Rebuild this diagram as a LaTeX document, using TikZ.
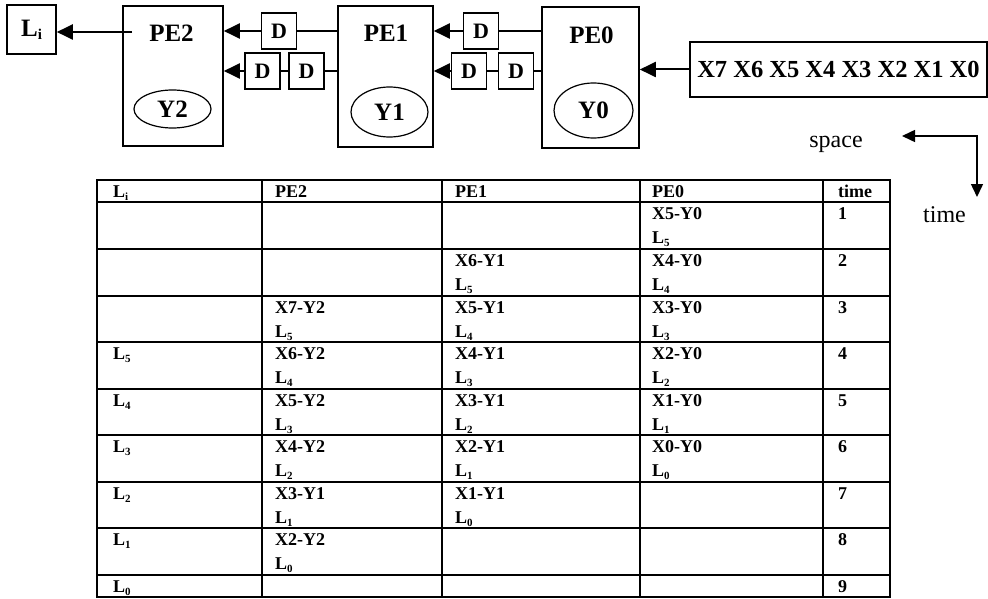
\documentclass[tikz,border=0pt]{standalone}
\usepackage{fontspec}
\setmainfont{Liberation Serif}
\usetikzlibrary{arrows.meta,shapes.geometric}
\newcommand{\Lsub}[1]{L\raisebox{-0.2em}{\fontsize{11}{11}\selectfont #1}}
\newcommand{\tcell}[5]{\node[cell] (#1a) at (#2,#3+17) {#4};\node[cell] (#1b) at (#2,#3+41) {#5};}
\begin{document}
\begin{tikzpicture}[x=1pt,y=-1pt,
  pebox/.style={draw, line width=1.6pt, inner sep=0pt},
  lbl/.style={inner sep=0pt, font=\fontsize{25}{25}\selectfont\bfseries},
  dbox/.style={draw, line width=1.6pt, minimum width=35pt, minimum height=36pt, inner sep=0pt, font=\fontsize{22}{22}\selectfont\bfseries},
  ell/.style={draw, ellipse, line width=1.2pt, inner sep=0pt, font=\fontsize{25}{25}\selectfont\bfseries},
  conn/.style={line width=2pt},
  arr/.style={line width=2pt, -{Triangle[length=16pt,width=15pt]}},
  gridline/.style={line width=1.6pt},
  cell/.style={anchor=base west, inner sep=0pt, font=\fontsize{18}{18}\selectfont\bfseries},
]
\useasboundingbox (0,0) rectangle (988,599);

% top diagram
\node[pebox, minimum width=49pt, minimum height=49pt, lbl] (Li) at (31.5,29.5)
  {L{\fontsize{15}{15}\selectfont\raisebox{-3pt}{i}}};
\node[pebox, minimum width=100pt, minimum height=140pt] (PE2) at (173,76) {};
\node[pebox, minimum width=95pt, minimum height=141pt] (PE1) at (385.5,76.5) {};
\node[pebox, minimum width=97pt, minimum height=141pt] (PE0) at (590.5,77.5) {};
\node[lbl] (PE2t) at (171.5,33) {PE2};
\node[lbl] (PE1t) at (386,33) {PE1};
\node[lbl] (PE0t) at (591.5,35) {PE0};
\node[ell, minimum width=77pt, minimum height=38pt] (Y2) at (172.5,109) {Y2};
\node[ell, minimum width=77pt, minimum height=50pt] (Y1) at (389.5,112) {Y1};
\node[ell, minimum width=79pt, minimum height=55pt] (Y0) at (593.5,110.5) {Y0};

\node[dbox] (Da) at (279,31) {D};
\node[dbox] (Db1) at (262.5,71) {D};
\node[dbox] (Db2) at (306.5,71) {D};
\node[dbox] (Dc) at (481,31) {D};
\node[dbox] (Dd1) at (469,71) {D};
\node[dbox] (Dd2) at (516,71) {D};

\node[pebox, minimum width=297pt, minimum height=55pt, lbl, font=\fontsize{24.5}{24.5}\selectfont\bfseries]
  (X) at (838.5,69.5) {X7 X6 X5 X4 X3 X2 X1 X0};

\coordinate (lo) at (132,32);
\draw[arr] (lo) -- (lo -| Li.east);
\draw[arr] (Da.west) -- (Da.west -| PE2.east);
\draw[conn] (PE1.west |- Da) -- (Da.east);
\draw[arr] (Db1.west) -- (Db1.west -| PE2.east);
\draw[conn] (Db2.west) -- (Db1.east);
\draw[conn] (PE1.west |- Db2) -- (Db2.east);
\draw[arr] (Dc.west) -- (Dc.west -| PE1.east);
\draw[conn] (PE0.west |- Dc) -- (Dc.east);
\draw[arr] (Dd1.west) -- (Dd1.west -| PE1.east);
\draw[conn] (Dd2.west) -- (Dd1.east);
\draw[conn] (PE0.west |- Dd2) -- (Dd2.east);
\draw[arr] (X.west) -- (X.west -| PE0.east);

% space / time
\coordinate (sp) at (902,136);
\coordinate (corner) at (977,136);
\coordinate (tm) at (977,197);
\draw[line width=1.5pt, {Triangle[length=13pt,width=12pt]}-{Triangle[length=13pt,width=12pt]}] (sp) -- (corner) -- (tm);
\node[anchor=base, inner sep=0pt, font=\fontsize{24}{24}\selectfont] (spc) at (836,148) {space};
\node[anchor=base, inner sep=0pt, font=\fontsize{24}{24}\selectfont] (tml) at (944.5,222) {time};

% table
\draw[gridline] (97,180) rectangle (890,597);
\foreach \x in {262,442,640,823} \draw[gridline] (\x,180) -- (\x,597);
\foreach \y in {202,249,296,342,389,435,482,528,575} \draw[gridline] (97,\y) -- (890,\y);

\node[cell] (hLi) at (113,197) {\Lsub{i}};
\node[cell] (hPE2) at (275,197) {PE2};
\node[cell] (hPE1) at (455,197) {PE1};
\node[cell] (hPE0) at (652,197) {PE0};
\node[cell] (htime) at (838,197) {time};

% row 1
\tcell{r1d}{652}{202}{X5-Y0}{\Lsub{5}}
% row 2
\tcell{r2c}{455}{249}{X6-Y1}{\Lsub{5}}
\tcell{r2d}{652}{249}{X4-Y0}{\Lsub{4}}
% row 3
\tcell{r3b}{275}{296}{X7-Y2}{\Lsub{5}}
\tcell{r3c}{455}{296}{X5-Y1}{\Lsub{4}}
\tcell{r3d}{652}{296}{X3-Y0}{\Lsub{3}}
% row 4
\tcell{r4b}{275}{342}{X6-Y2}{\Lsub{4}}
\tcell{r4c}{455}{342}{X4-Y1}{\Lsub{3}}
\tcell{r4d}{652}{342}{X2-Y0}{\Lsub{2}}
% row 5
\tcell{r5b}{275}{389}{X5-Y2}{\Lsub{3}}
\tcell{r5c}{455}{389}{X3-Y1}{\Lsub{2}}
\tcell{r5d}{652}{389}{X1-Y0}{\Lsub{1}}
% row 6
\tcell{r6b}{275}{435}{X4-Y2}{\Lsub{2}}
\tcell{r6c}{455}{435}{X2-Y1}{\Lsub{1}}
\tcell{r6d}{652}{435}{X0-Y0}{\Lsub{0}}
% row 7
\tcell{r7b}{275}{482}{X3-Y1}{\Lsub{1}}
\tcell{r7c}{455}{482}{X1-Y1}{\Lsub{0}}
% row 8
\tcell{r8b}{275}{528}{X2-Y2}{\Lsub{0}}

% Li column
\node[cell] (r4a) at (113,342+17) {\Lsub{5}};
\node[cell] (r5a) at (113,389+17) {\Lsub{4}};
\node[cell] (r6a) at (113,435+17) {\Lsub{3}};
\node[cell] (r7a) at (113,482+17) {\Lsub{2}};
\node[cell] (r8a) at (113,528+17) {\Lsub{1}};
\node[cell] (r9a) at (113,575+17) {\Lsub{0}};

% time column
\foreach \t/\yy in {1/202,2/249,3/296,4/342,5/389,6/435,7/482,8/528,9/575}
  \node[cell] (t\t) at (838,\yy+17) {\t};
\end{tikzpicture}
\end{document}
